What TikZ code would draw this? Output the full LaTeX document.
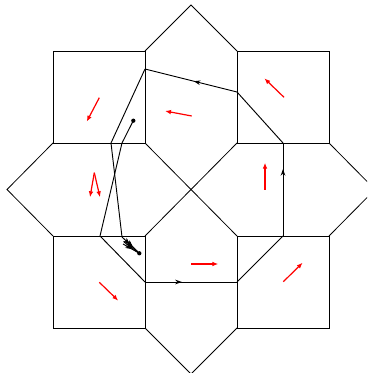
\documentclass[tikz,border=0pt]{standalone}
\usetikzlibrary{arrows.meta,decorations.markings}
\begin{document}
\begin{tikzpicture}[x=0.75pt,y=-0.75pt,
  tile/.style={line width=0.6pt},
  field/.style={red,line width=0.9pt,-{Latex[length=4.5pt,width=3.5pt]}},
  orbit/.style={line width=0.7pt},
  midarrow/.style={postaction={decorate},decoration={markings,mark=at position #1 with {\arrow{Stealth[length=5pt,width=3.5pt]}}}}]
\useasboundingbox (0,0) rectangle (367,373);
\clip (0,0) rectangle (367,373);
% corner squares
\foreach \xa/\ya in {53/51,237/51,53/236,237/236} {\draw[tile] (\xa,\ya) rectangle ++(92,92);}
% outer tips of the four hexagons
\draw[tile] (145,51) -- (191,5) -- (237,51);
\draw[tile] (53,143) -- (7,189.5) -- (53,236);
\draw[tile] (145,328) -- (191,374) -- (237,328);
\draw[tile] (329,143) -- (375,189.5) -- (329,236);
% inner tips meet at the centre
\draw[tile] (145,143) -- (237,236);
\draw[tile] (237,143) -- (145,236);
% vector field, one (or two) per cell
\foreach \xa/\ya/\xb/\yb in {99.3/97.7/86.7/121.7, 191.7/116/165/111, 284/97.3/264.3/78.3,
  94.3/172.7/90/197.3, 94.3/172.7/100/197.3, 265/190/265/162.7,
  99.3/282.3/118.3/300.7, 191/264/218.3/264, 283.3/281.7/302.7/262.7}
  {\draw[field] (\xa,\ya) -- (\xb,\yb);}
% the orbit
\coordinate (p0) at (133.3,120.7);
\coordinate (p1) at (122,143);
\coordinate (p2) at (100,236);
\coordinate (p3) at (145,282);
\coordinate (p4) at (237,282);
\coordinate (p5) at (283,236);
\coordinate (p6) at (283,143);
\coordinate (p7) at (237,92);
\coordinate (p8) at (145,69);
\coordinate (p9) at (111,143);
\coordinate (p10) at (122,237);
\coordinate (p11) at (139.3,253.3);
\draw[orbit] (p0) -- (p1) -- (p2) -- (p3);
\draw[orbit,midarrow=0.4] (p3) -- (p4);
\draw[orbit] (p4) -- (p5);
\draw[orbit,midarrow=0.72] (p5) -- (p6);
\draw[orbit] (p6) -- (p7);
\draw[orbit,midarrow=0.47] (p7) -- (p8);
\draw[orbit] (p8) -- (p9) -- (p10);
% sliding into the end point
\draw[orbit,midarrow=0.45,midarrow=0.62] (p10) -- (p11);
\draw[orbit,midarrow=0.55] (124,242) -- (p11);
\draw[orbit,midarrow=0.5] (126,240) -- (p11);
\draw[orbit,midarrow=0.55] (123,244) -- (p11);
\fill (p0) circle (1.6pt);
\fill (p11) circle (1.6pt);
\end{tikzpicture}
\end{document}
